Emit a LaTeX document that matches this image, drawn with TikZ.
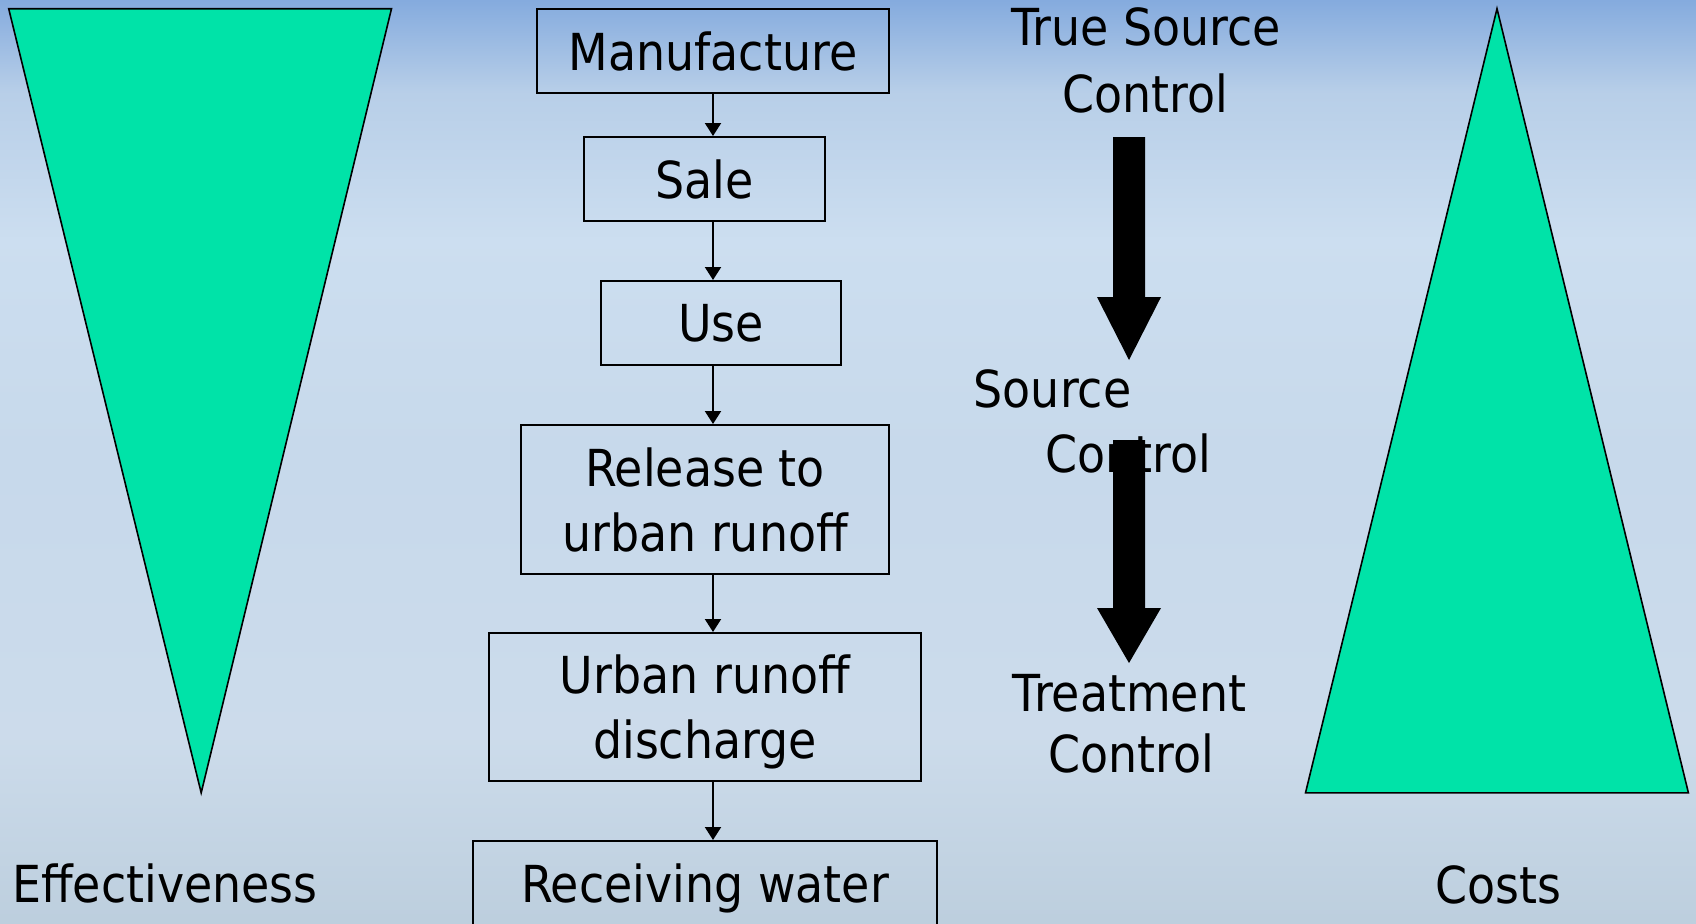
\documentclass[tikz,border=0pt]{standalone}
\usepackage{fontspec}
\setmainfont{DejaVu Sans}[FakeStretch=0.9]
\usetikzlibrary{arrows.meta}
\definecolor{trigreen}{RGB}{0,227,168}
\pgfdeclareverticalshading{sky}{100bp}{rgb(0bp)=(0.74,0.81,0.87); rgb(25bp)=(0.74,0.81,0.87); rgb(35bp)=(0.80,0.86,0.92); rgb(50bp)=(0.78,0.85,0.92); rgb(62bp)=(0.80,0.87,0.94); rgb(70bp)=(0.72,0.81,0.91); rgb(75bp)=(0.52,0.67,0.87); rgb(100bp)=(0.52,0.67,0.87)}
\newcommand\boxfont{\fontsize{25.5}{32.5}\selectfont}
\begin{document}
\begin{tikzpicture}[x=0.5pt,y=-0.5pt,
  box/.style={draw=black,line width=1pt,inner sep=0pt,align=center,font=\boxfont,minimum height=42pt,text depth=0pt},
  lab/.style={font=\boxfont,inner sep=0pt,anchor=base},
  flow/.style={-{Triangle[length=6.5pt,width=8pt]},line width=1pt},
  tri/.style={fill=trigreen,draw=black,line width=0.8pt,line join=miter},
  big/.style={fill=black}]
\useasboundingbox (0,0) rectangle (1696,923);
\shade[shading=sky] (0,0) rectangle (1696,923);

% triangles
\path[tri] (8.7,8.7) -- (391.5,8.7) -- (201.2,792.8) -- cycle;
\path[tri] (1497,8.7) -- (1688.4,792.8) -- (1305.5,792.8) -- cycle;

% flow boxes
\node[box,minimum width=176pt] (man) at (713,51) {Manufacture};
\node[box,minimum width=120.5pt] (sale) at (704.5,179) {Sale};
\node[box,minimum width=120pt] (use) at (721,323) {Use};
\node[box,minimum width=184pt,minimum height=74.5pt] (rel) at (705,499.5) {Release to\\urban runoff};
\node[box,minimum width=216pt,minimum height=74pt] (urb) at (705,707) {Urban runoff\\discharge};
\node[box,minimum width=232pt] (rec) at (705,883) {Receiving water};

\coordinate (col) at (713,0);
\draw[flow] (man.south -| col) -- (sale.north -| col);
\draw[flow] (sale.south -| col) -- (use.north -| col);
\draw[flow] (use.south -| col) -- (rel.north -| col);
\draw[flow] (rel.south -| col) -- (urb.north -| col);
\draw[flow] (urb.south -| col) -- (rec.north -| col);

% side labels
\node[lab] (tsA) at (1146,45) {True Source};
\node[lab] (tsB) at (1145,112) {Control};
\node[lab] (scA) at (1052.5,407) {Source};
\node[lab] (scB) at (1128,472) {Control};
\node[lab] (tcA) at (1129.5,711) {Treatment};
\node[lab] (tcB) at (1131.5,772) {Control};
\node[lab] (eff) at (165,902) {Effectiveness};
\node[lab] (cost) at (1498.5,903) {Costs};

% big arrows
\path[big] (1113,137) -- (1145,137) -- (1145,297) -- (1161,297) -- (1129,360) -- (1097,297) -- (1113,297) -- cycle;
\path[big] (1113,440) -- (1145,440) -- (1145,608) -- (1161,608) -- (1129,663) -- (1097,608) -- (1113,608) -- cycle;
\end{tikzpicture}
\end{document}
